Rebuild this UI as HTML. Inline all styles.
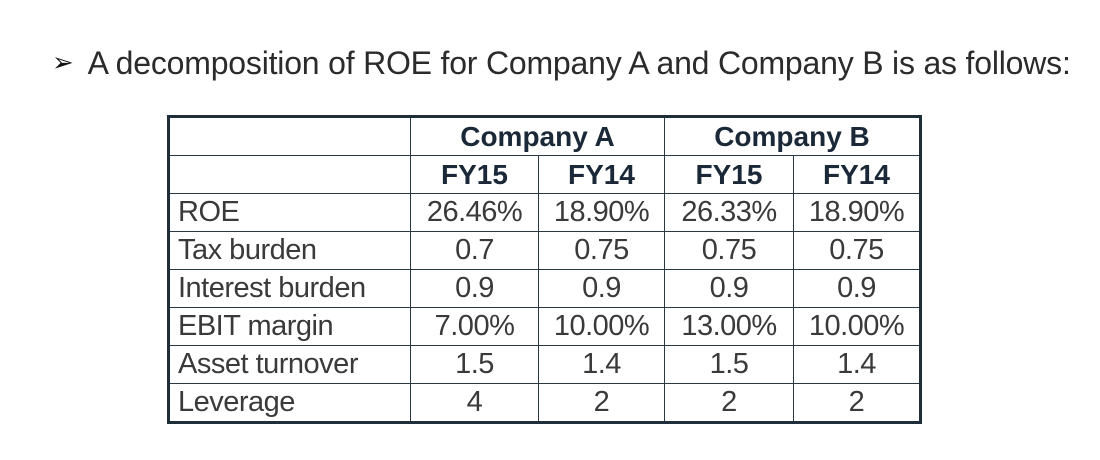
<!DOCTYPE html>
<html><head><meta charset="utf-8"><style>
body{margin:0;width:1100px;height:460px;background:#fff;overflow:hidden;font-family:"Liberation Sans",sans-serif;position:relative}
.title{position:absolute;left:52px;top:45px;font-size:32px;color:#2b2b2b;white-space:nowrap;letter-spacing:-0.2px}
.title .arr{font-size:26px;position:relative;top:-3px;margin-right:14px;color:#111}
table{position:absolute;left:167px;top:115px;border-collapse:collapse;border:3px solid #1f2f3a;table-layout:fixed}
td{border:1.5px solid #2a3a44;height:37px;padding:0;font-size:29px;color:#3a3a3a;text-align:center;line-height:37px;white-space:nowrap;overflow:hidden;letter-spacing:-0.5px}
td.l{text-align:left;padding-left:8px}
tr.h td{font-weight:bold;color:#1a2838;font-size:28px;letter-spacing:0}
</style></head><body>
<div class="title"><span class="arr">➢</span>A decomposition of ROE for Company A and Company B is as follows:</div>
<table>
<colgroup><col style="width:242px"><col style="width:128px"><col style="width:126px"><col style="width:129px"><col style="width:127px"></colgroup>
<tr class="h"><td></td><td colspan="2">Company A</td><td colspan="2">Company B</td></tr>
<tr class="h"><td></td><td>FY15</td><td>FY14</td><td>FY15</td><td>FY14</td></tr>
<tr><td class="l">ROE</td><td>26.46%</td><td>18.90%</td><td>26.33%</td><td>18.90%</td></tr>
<tr><td class="l">Tax burden</td><td>0.7</td><td>0.75</td><td>0.75</td><td>0.75</td></tr>
<tr><td class="l">Interest burden</td><td>0.9</td><td>0.9</td><td>0.9</td><td>0.9</td></tr>
<tr><td class="l">EBIT margin</td><td>7.00%</td><td>10.00%</td><td>13.00%</td><td>10.00%</td></tr>
<tr><td class="l">Asset turnover</td><td>1.5</td><td>1.4</td><td>1.5</td><td>1.4</td></tr>
<tr><td class="l">Leverage</td><td>4</td><td>2</td><td>2</td><td>2</td></tr>
</table>
</body></html>
